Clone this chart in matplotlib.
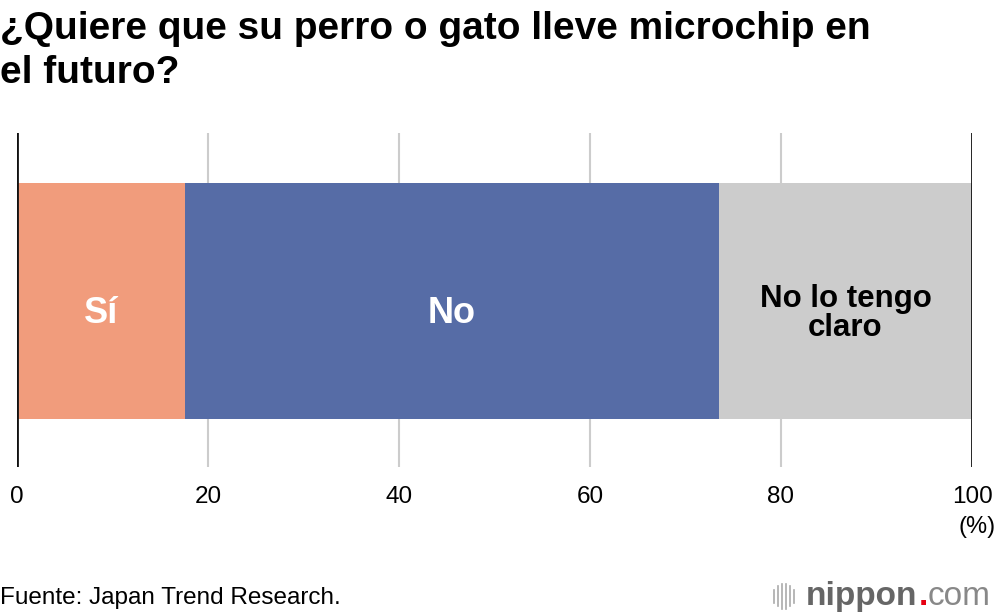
import matplotlib.pyplot as plt
from matplotlib.lines import Line2D

plt.rcParams['font.family'] = ['Liberation Sans', 'DejaVu Sans']

# data
categories = ['Sí', 'No', 'No lo tengo\nclaro']
values = [17.6, 55.9, 26.5]
colors = ['#f19c7c', '#566ca6', '#cccccc']
label_colors = ['white', 'white', 'black']
label_sizes = [26, 26, 22.5]
xticks = [0, 20, 40, 60, 80, 100]
title_lines = ['¿Quiere que su perro o gato lleve microchip en', 'el futuro?']

fig = plt.figure(figsize=(10, 6.16), dpi=100)
ax = fig.add_axes([0.017, 0.242, 0.955, 0.542])

left = 0
for cat, v, c, lc, fs in zip(categories, values, colors, label_colors, label_sizes):
    ax.barh(0.497, v, left=left, height=0.707, color=c, zorder=2)
    ax.text(left + v / 2, 0.46, cat, ha='center', va='center', color=lc,
            fontsize=fs, fontweight='bold', linespacing=0.95, zorder=3)
    left += v

ax.set_xlim(0, 100)
ax.set_ylim(0, 1)
for x in xticks[1:-1]:
    ax.axvline(x, color='#cccccc', lw=1.5, zorder=1)
for x in (xticks[0], xticks[-1]):
    ax.axvline(x, color='#111111', lw=2, zorder=4)

for s in ax.spines.values():
    s.set_visible(False)
ax.set_yticks([])
ax.set_xticks(xticks)
ax.set_xticklabels([str(t) for t in xticks], fontsize=17.5)
ax.tick_params(axis='x', length=0, pad=14)

fig.text(0.977, 0.144, '(%)', ha='center', va='center', fontsize=17)

for i, line in enumerate(title_lines):
    fig.text(0.0, 0.937 - i * 0.0715, line, ha='left', va='baseline',
             fontsize=28, fontweight='bold')

fig.text(0.0, 0.029, 'Fuente: Japan Trend Research.', ha='left', va='center', fontsize=17.5)

# logo
for i, h in enumerate([0.022, 0.032, 0.04, 0.04, 0.032, 0.022]):
    x = 0.774 + i * 0.004
    fig.add_artist(Line2D([x, x], [0.032 - h / 2, 0.032 + h / 2], color='#aaaaaa', lw=1.2))
fig.canvas.draw()
r = fig.canvas.get_renderer()
t1 = fig.text(0.806, 0.032, 'nippon', ha='left', va='center', fontsize=24, fontweight='bold', color='#666666')
x1 = fig.transFigure.inverted().transform(t1.get_window_extent(r))[1][0]
t2 = fig.text(x1 + 0.001, 0.032, '.', ha='left', va='center', fontsize=24, fontweight='bold', color='#e60012')
x2 = fig.transFigure.inverted().transform(t2.get_window_extent(r))[1][0]
fig.text(x2, 0.032, 'com', ha='left', va='center', fontsize=24, color='#888888')

fig.savefig('out.png', dpi=100)
